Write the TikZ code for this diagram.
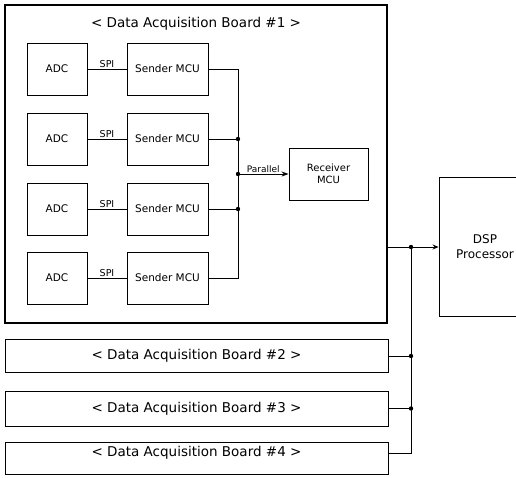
\documentclass[tikz,border=0pt]{standalone}
\usepackage{fontspec}
\setmainfont{DejaVu Sans}
\usetikzlibrary{arrows.meta}
\begin{document}
\begin{tikzpicture}[x=1pt,y=-1pt,
  thinline/.style={line width=0.9pt},
  unit/.style={draw, thinline, inner sep=0pt, align=center,
    minimum height=52pt, font=\fontsize{10.5}{12}\selectfont},
  adc/.style={unit, minimum width=60pt},
  sender/.style={unit, minimum width=81pt},
  board/.style={draw, thinline, inner sep=0pt, minimum width=383pt,
    font=\fontsize{13.5}{16}\selectfont},
  title/.style={font=\fontsize{13.5}{16}\selectfont},
  wire/.style={thinline},
  dot/.style={fill=black},
  lbl/.style={inner sep=1pt, font=\fontsize{9.5}{11}\selectfont}]

% page frame
\path[use as bounding box, fill=white] (0,0) rectangle (516,477);

% board #1 outline and title
\node[draw, line width=2.4pt, inner sep=0pt, minimum width=382pt,
      minimum height=318pt] (b1) at (196,164) {};
\node[title] (t1) at (196,24) {< Data Acquisition Board \#1 >};

% ADC -> sender MCU rows
\foreach \i/\y in {1/69,2/139,3/209,4/278}{
  \node[adc] (adc\i) at (57,\y) {ADC};
  \node[sender] (snd\i) at (167.5,\y) {Sender MCU};
  \draw[wire] (adc\i) -- node[lbl, above] (spi\i) {SPI} (snd\i);
}

% receiver MCU
\node[unit, minimum width=79pt, font=\fontsize{10}{12}\selectfont]
  (rcv) at (328.5,174) {Receiver\\MCU};

% parallel bus inside board #1
\coordinate (bt) at (238,69);
\coordinate (bb) at (238,278);
\coordinate (jp) at (238,174);
\draw[wire] (snd1.east) -- (bt) -- (bb) -- (snd4.east);
\draw[wire] (snd2.east) -- (snd2.east -| bt);
\draw[wire] (snd3.east) -- (snd3.east -| bt);
\draw[wire, -{Stealth[length=7pt,width=5pt]}] (jp) --
  node[lbl, above, font=\fontsize{9}{11}\selectfont] (par) {Parallel} (rcv.west);
\fill[dot] (snd2.east -| bt) circle (2.2pt);
\fill[dot] (snd3.east -| bt) circle (2.2pt);
\fill[dot] (jp) circle (2.2pt);

% DSP processor
\node[draw, thinline, inner sep=0pt, minimum width=92pt, minimum height=139pt,
      align=center, font=\fontsize{12}{15}\selectfont]
  (dsp) at (485,246.5) {DSP\\Processor};

% other boards
\node[board, minimum height=33pt] (b2) at (196.5,356) {< Data Acquisition Board \#2 >};
\node[board, minimum height=35pt] (b3) at (196.5,408.5) {< Data Acquisition Board \#3 >};
\node[board, minimum height=32pt] (b4) at (196.5,458) {};
\node[title] (t4) at (196.5,453) {< Data Acquisition Board \#4 >};

% system bus to the DSP
\coordinate (j1) at (411,247);
\coordinate (j4) at (411,453);
\draw[wire, -{Stealth[length=6pt,width=5pt]}] (b1.east |- j1) -- (dsp.west |- j1);
\draw[wire] (j1) -- (j4) -- (t4.east -| b4.east);
\draw[wire] (b2.east) -- (b2.east -| j1);
\draw[wire] (b3.east) -- (b3.east -| j1);
\fill[dot] (j1) circle (2.2pt);
\fill[dot] (b2.east -| j1) circle (2.2pt);
\fill[dot] (b3.east -| j1) circle (2.2pt);
\end{tikzpicture}
\end{document}
